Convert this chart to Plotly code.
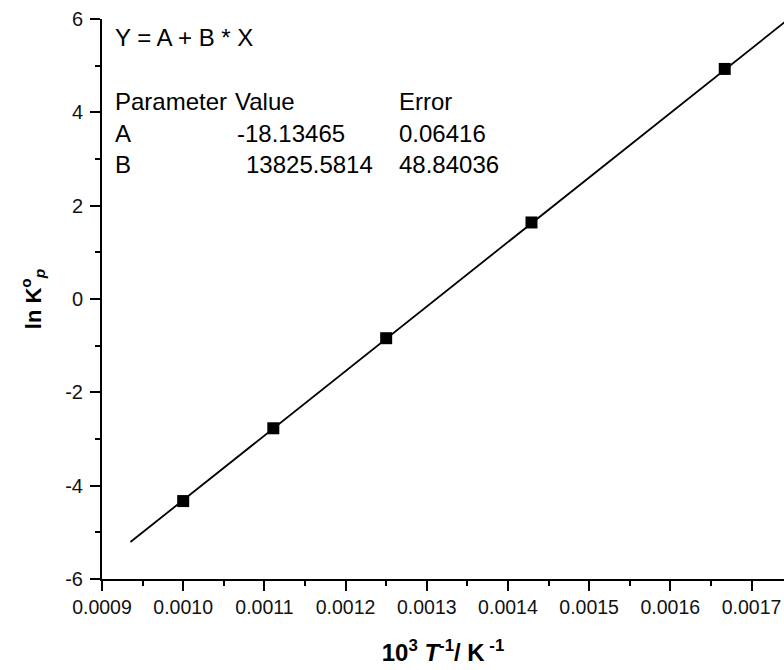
import plotly.graph_objects as go

# ---- data ----
inv_T = [0.0010, 0.001111, 0.00125, 0.001429, 0.001667]
ln_Kp = [-4.33, -2.77, -0.84, 1.64, 4.93]

fit_A = -18.13465
fit_B = 13825.5814
fit_A_err = 0.06416
fit_B_err = 48.84036
fit_x = [0.000935, 0.00176]
fit_y = [fit_A + fit_B * v for v in fit_x]

x_tickvals = [0.0009, 0.0010, 0.0011, 0.0012, 0.0013, 0.0014, 0.0015, 0.0016, 0.0017]
x_ticktext = ["0.0009", "0.0010", "0.0011", "0.0012", "0.0013", "0.0014", "0.0015", "0.0016", "0.0017"]
y_tickvals = [-6, -4, -2, 0, 2, 4, 6]
y_ticktext = ["-6", "-4", "-2", "0", "2", "4", "6"]

# ---- layout geometry (pixels) ----
W, H = 784, 670
L, R, T, B = 102, 0, 19, 91
PW, PH = W - L - R, H - T - B


def px(x):
    return (x - L) / PW


def py(y):
    return (H - B - y) / PH


FONT = "Liberation Sans, Arial, sans-serif"

fig = go.Figure()
fig.add_trace(go.Scatter(x=fit_x, y=fit_y, mode="lines",
                         line=dict(color="black", width=1.8), showlegend=False,
                         hoverinfo="skip"))
fig.add_trace(go.Scatter(x=inv_T, y=ln_Kp, mode="markers",
                         marker=dict(symbol="square", size=12, color="black"),
                         showlegend=False))

fig.update_layout(
    width=W, height=H, margin=dict(l=L, r=R, t=T, b=B, autoexpand=False),
    paper_bgcolor="white", plot_bgcolor="white",
    font=dict(family=FONT, color="black", size=20),
)
fig.update_xaxes(
    range=[0.0009, 0.00174], tickmode="array", tickvals=x_tickvals, ticktext=x_ticktext,
    showline=True, linecolor="black", linewidth=2, automargin=False,
    ticks="outside", ticklen=10, tickwidth=2, tickcolor="black",
    showgrid=False, zeroline=False, tickangle=0,
    tickfont=dict(family=FONT, size=19.5, color="#111"),
    minor=dict(ticks="outside", ticklen=5, tickwidth=2, tickcolor="black",
               dtick=0.00005, tick0=0.0009),
    title=dict(text="10<sup>3</sup> <i>T</i><sup>-1</sup>/ K<sup> -1</sup>",
               font=dict(family=FONT, size=24, color="black", weight="bold"),
               standoff=27),
)
fig.update_yaxes(
    range=[-6, 6], tickmode="array", tickvals=y_tickvals, ticktext=y_ticktext,
    showline=True, linecolor="black", linewidth=2, automargin=False,
    ticks="outside", ticklen=10, tickwidth=2, tickcolor="black",
    showgrid=False, zeroline=False,
    tickfont=dict(family=FONT, size=20, color="#111"),
    minor=dict(ticks="outside", ticklen=5, tickwidth=2, tickcolor="black",
               dtick=1, tick0=-6),
    ticklabelstandoff=3,
    title=dict(text="ln K<sup>o</sup><sub><i>p</i></sub>",
               font=dict(family=FONT, size=22, color="black", weight="bold"),
               standoff=18),
)

ann_font = dict(family=FONT, size=24, color="black")
rows = [
    (38, [(113, "Y = A + B * X")]),
    (101, [(113, "Parameter"), (233, "Value"), (397, "Error")]),
    (133, [(113, "A"), (235, "-18.13465"), (397, f"{fit_A_err:.5f}")]),
    (165, [(113, "B"), (244, f"{fit_B:.4f}"), (397, f"{fit_B_err:.5f}")]),
]
for yy, cells in rows:
    for xx, txt in cells:
        fig.add_annotation(xref="paper", yref="paper", x=px(xx), y=py(yy),
                           xanchor="left", yanchor="middle", text=txt,
                           showarrow=False, font=ann_font)

fig.write_html("out.html")
